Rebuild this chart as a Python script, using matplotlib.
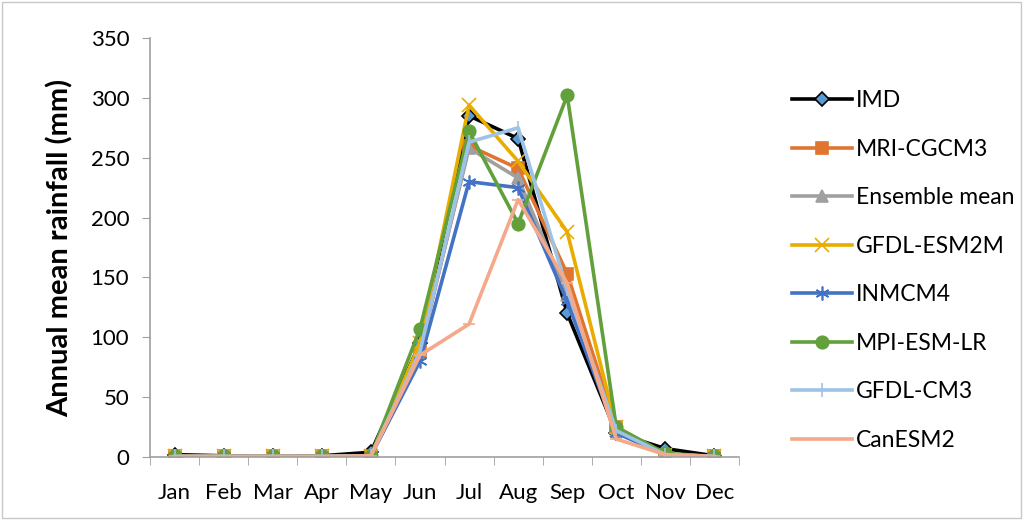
import matplotlib
matplotlib.use("Agg")
import matplotlib.pyplot as plt
from matplotlib.patches import Rectangle

plt.rcParams["font.family"] = ["Lato", "DejaVu Sans"]

months = ["Jan", "Feb", "Mar", "Apr", "May", "Jun",
          "Jul", "Aug", "Sep", "Oct", "Nov", "Dec"]

imd = [2, 1, 0.5, 1, 4, 95, 285, 266, 120, 20, 7, 1]
mri_cgcm3 = [0.5, 0.5, 0.5, 0.5, 1, 88, 260, 241, 153, 25, 2, 0.5]
ensemble_mean = [0.5, 0.5, 0.5, 0.5, 1, 90, 258, 233, 135, 22, 2, 0.5]
gfdl_esm2m = [0.5, 0.5, 0.5, 0.5, 1, 95, 294, 247, 188, 25, 2, 0.5]
inmcm4 = [0.5, 0.5, 0.5, 0.5, 1, 80, 230, 225, 130, 20, 2, 0.5]
mpi_esm_lr = [0.5, 0.5, 0.5, 0.5, 1, 107, 272, 195, 302, 25, 3, 0.5]
gfdl_cm3 = [0.5, 0.5, 0.5, 0.5, 1, 88, 263, 275, 140, 22, 2, 0.5]
canesm2 = [0.5, 0.5, 0.5, 0.5, 1, 85, 111, 215, 145, 15, 2, 0.5]

series = [
    ("IMD", imd, "black", "D", "#5B9BD5", "black", 7),
    ("MRI-CGCM3", mri_cgcm3, "#E07530", "s", "#E07530", "#E07530", 8),
    ("Ensemble mean", ensemble_mean, "#A0A0A0", "^", "#A0A0A0", "#A0A0A0", 8),
    ("GFDL-ESM2M", gfdl_esm2m, "#E8AD00", "x", "#E8AD00", "#E8AD00", 10),
    ("INMCM4", inmcm4, "#4472C4", (6, 2, 0), "#4472C4", "#4472C4", 10),
    ("MPI-ESM-LR", mpi_esm_lr, "#62A03C", "o", "#62A03C", "#62A03C", 9),
    ("GFDL-CM3", gfdl_cm3, "#9DC3E6", "|", "#9DC3E6", "#9DC3E6", 10),
    ("CanESM2", canesm2, "#F4A98A", "_", "#F4A98A", "#F4A98A", 8),
]

fig = plt.figure(figsize=(10.24, 5.2), dpi=100)
ax = fig.add_axes([150 / 1024, 1 - 457 / 520, 589 / 1024, 419 / 520])

x = list(range(len(months)))
for name, vals, col, mk, mfc, mec, ms in series:
    ax.plot(x, vals, color=col, lw=2.6, marker=mk, markersize=ms,
            markerfacecolor=mfc, markeredgecolor=mec, markeredgewidth=1.2,
            label=name, solid_joinstyle="round")

ax.set_xlim(-0.5, 11.5)
ax.set_ylim(0, 350)
ax.set_yticks(range(0, 351, 50))
ax.set_xticks(x)
ax.set_xticklabels(months)
ax.set_xticks([i - 0.5 for i in range(13)], minor=True)
ax.tick_params(axis="x", which="major", length=0, pad=19, labelsize=16)
ax.tick_params(axis="x", which="minor", length=6, color="#A0A0A0",
               direction="out")
ax.tick_params(axis="y", length=6, color="#A0A0A0", labelsize=16, pad=9)
for side in ("top", "right"):
    ax.spines[side].set_visible(False)
for side in ("left", "bottom"):
    ax.spines[side].set_color("#A0A0A0")
    ax.spines[side].set_linewidth(1.2)

ax.set_ylabel("Annual mean rainfall (mm)", fontsize=21, fontweight="bold",
              labelpad=12)

leg = ax.legend(loc="upper left", bbox_to_anchor=(1.055, 0.925), frameon=False,
                fontsize=16.5, handlelength=2.6, labelspacing=1.2,
                handletextpad=0.2)

# light border around the whole chart
fig.patches.append(Rectangle((0.002, 0.003), 0.995, 0.993,
                             transform=fig.transFigure, fill=False,
                             edgecolor="#C8C8C8", lw=1))

fig.savefig("out.png", dpi=100)
